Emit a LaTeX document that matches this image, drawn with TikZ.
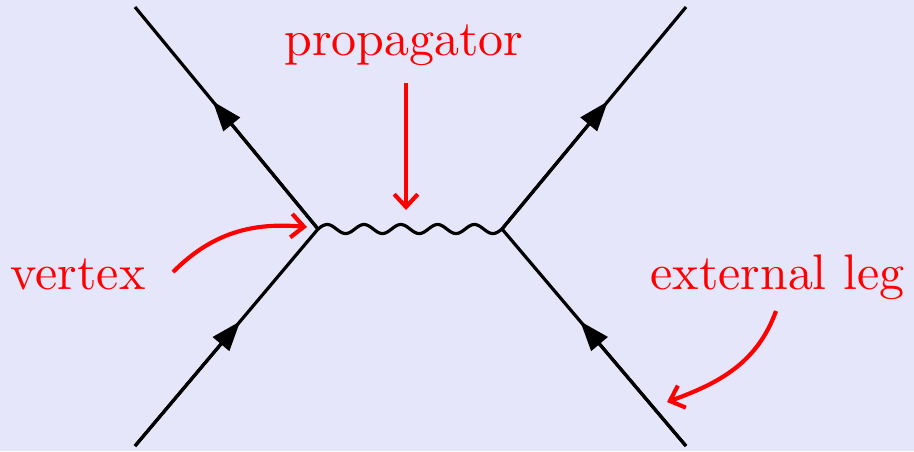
\documentclass[tikz,border=0pt]{standalone}
\usetikzlibrary{arrows.meta,calc}
\definecolor{bg}{RGB}{230,230,250}
\begin{document}
\begin{tikzpicture}[x=0.2041pt,y=0.2041pt,
  fermion/.style={black,line width=0.65pt,line join=miter},
  fermarrow/.style={black,line width=0.65pt,-{Triangle[length=6.1pt,width=4.3pt]}},
  photon/.style={black,line width=0.65pt,line join=round},
  note/.style={red,line width=0.85pt,-{Straight Barb[length=2.6pt,width=4.8pt]}},
  notetext/.style={text=red,inner sep=0pt,anchor=base,font=\fontsize{10.2}{12}\selectfont}]
\fill[bg] (0,0) rectangle (914,451);
\useasboundingbox (0,0) rectangle (914,451);
\coordinate (L) at (318,222);
\coordinate (R) at (502,222);
\coordinate (TL) at (135,444);
\coordinate (BL) at (135,5);
\coordinate (TR) at (686,444);
\coordinate (BR) at (686,5);
\draw[fermion] (BL) -- (L) -- (TL);
\draw[fermion] (BR) -- (R) -- (TR);
\draw[fermarrow] (BL) -- ($(BL)!0.575!(L)$);
\draw[fermarrow] (L) -- ($(L)!0.575!(TL)$);
\draw[fermarrow] (BR) -- ($(BR)!0.575!(R)$);
\draw[fermarrow] (R) -- ($(R)!0.575!(TR)$);
\draw[photon] (L) -- plot[domain=318:502,samples=200] (\x,{222+4.5*sin((\x-318)/184*1800)}) -- (R);
\node[notetext] (prop) at (404,396) {propagator};
\node[notetext] (vert) at (78,162) {vertex};
\node[notetext] (ext) at (777.5,162) {external leg};
\coordinate (propS) at (406,368);
\coordinate (propE) at (406,241);
\coordinate (vS) at (173,179);
\coordinate (vE) at (307,224);
\coordinate (eS) at (776,140);
\coordinate (eE) at (667,49);
\draw[note] (propS) -- (propE);
\draw[note] (vS) to[out=45,in=175] (vE);
\draw[note] (eS) to[out=250,in=20] (eE);
\end{tikzpicture}
\end{document}
